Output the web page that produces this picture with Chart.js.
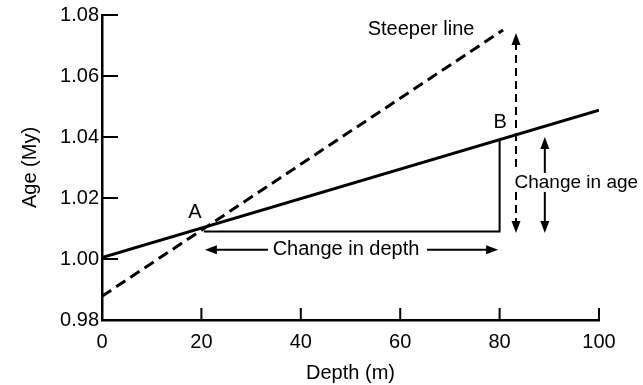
<!DOCTYPE html>
<html>
<head>
<meta charset="utf-8">
<script src="https://cdn.jsdelivr.net/npm/chart.js@4/dist/chart.umd.min.js"></script>
<style>
  html, body { margin: 0; padding: 0; background: #fff; }
  canvas { display: block; }
</style>
</head>
<body>
<canvas id="c" width="643" height="385"></canvas>
<script>
// ---- data ----
const depthTicks = [0, 20, 40, 60, 80, 100];
const ageTicks = [0.98, 1.00, 1.02, 1.04, 1.06, 1.08];

const lineDepth = [0, 100];
const lineAge = [1.0005, 1.0488];

const steeperDepth = [0, 80.7];
const steeperAge = [0.9878, 1.0751];

const triangleDepth = [20.5, 80, 80];
const triangleAge = [1.009, 1.009, 1.0391];

// double arrows: [outer tip, inner end] per half
const depthArrowAge = 1.003;
const depthArrowLeft = [20.7, 33.4];
const depthArrowRight = [79.7, 65.4];

const ageArrowDepth = 89.1;
const ageArrowTop = [1.040, 1.0282];
const ageArrowBottom = [1.0085, 1.022];

const steepArrowDepth = 83.3;
const steepArrowTop = [1.0741, 1.0302];
const steepArrowBottom = [1.0085, 1.022];

// text labels: [text, depth, age, align, size]
const labels = [
  ['A', 18.7, 1.0154, 'center', 20],
  ['B', 80.1, 1.0446, 'center', 20],
  ['Steeper line', 64.2, 1.0751, 'center', 20],
  ['Change in depth', 49.1, 1.003, 'center', 20],
  ['Change in age', 83.0, 1.0249, 'left', 19]
];

const FAMILY = "'Liberation Sans', Arial, sans-serif";
const FONT = { family: FAMILY, size: 20 };

function pts(xs, ys) { return xs.map((x, i) => ({ x: x, y: ys[i] })); }

function head(ctx, x, y, ang) {
  const L = 12, W = 4.5;
  ctx.save();
  ctx.translate(x, y);
  ctx.rotate(ang);
  ctx.beginPath();
  ctx.moveTo(0, 0);
  ctx.lineTo(-L, -W);
  ctx.lineTo(-L, W);
  ctx.closePath();
  ctx.fillStyle = '#000';
  ctx.fill();
  ctx.restore();
}

function arrowHalf(ctx, x1, y1, x2, y2, dash) {
  // (x1,y1) = tip, (x2,y2) = tail
  const ang = Math.atan2(y1 - y2, x1 - x2);
  ctx.save();
  ctx.strokeStyle = '#000';
  ctx.lineWidth = 2;
  ctx.setLineDash(dash || []);
  ctx.beginPath();
  ctx.moveTo(x2, y2);
  ctx.lineTo(x1 - Math.cos(ang) * 8, y1 - Math.sin(ang) * 8);
  ctx.stroke();
  ctx.restore();
  head(ctx, x1, y1, ang);
}

const decor = {
  id: 'decor',
  afterDraw(chart) {
    const ctx = chart.ctx;
    const xs = chart.scales.x, ys = chart.scales.y;
    const X = v => xs.getPixelForValue(v), Y = v => ys.getPixelForValue(v);
    const area = chart.chartArea;
    ctx.save();
    // inward tick marks
    ctx.strokeStyle = '#000';
    ctx.lineWidth = 2;
    ageTicks.forEach(v => {
      const y = Y(v);
      ctx.beginPath(); ctx.moveTo(area.left, y); ctx.lineTo(area.left + 16, y); ctx.stroke();
    });
    depthTicks.forEach(v => {
      const x = X(v);
      ctx.beginPath(); ctx.moveTo(x, area.bottom); ctx.lineTo(x, area.bottom - 12); ctx.stroke();
    });

    // depth arrow
    arrowHalf(ctx, X(depthArrowLeft[0]), Y(depthArrowAge), X(depthArrowLeft[1]), Y(depthArrowAge));
    arrowHalf(ctx, X(depthArrowRight[0]), Y(depthArrowAge), X(depthArrowRight[1]), Y(depthArrowAge));
    // age arrow (solid)
    arrowHalf(ctx, X(ageArrowDepth), Y(ageArrowTop[0]), X(ageArrowDepth), Y(ageArrowTop[1]));
    arrowHalf(ctx, X(ageArrowDepth), Y(ageArrowBottom[0]), X(ageArrowDepth), Y(ageArrowBottom[1]));
    // steeper age arrow (dashed)
    arrowHalf(ctx, X(steepArrowDepth), Y(steepArrowTop[0]), X(steepArrowDepth), Y(steepArrowTop[1]), [8, 5]);
    arrowHalf(ctx, X(steepArrowDepth), Y(steepArrowBottom[0]), X(steepArrowDepth), Y(steepArrowBottom[1]), [8, 5]);

    // labels
    ctx.fillStyle = '#000';
    ctx.textBaseline = 'middle';
    labels.forEach(([t, d, a, al, sz]) => {
      ctx.font = sz + 'px ' + FAMILY;
      ctx.textAlign = al;
      ctx.fillText(t, X(d), Y(a));
    });
    ctx.restore();
  }
};

new Chart(document.getElementById('c'), {
  type: 'scatter',
  data: {
    datasets: [
      { data: pts(lineDepth, lineAge), showLine: true, borderColor: '#000', borderWidth: 3, pointRadius: 0 },
      { data: pts(steeperDepth, steeperAge), showLine: true, borderColor: '#000', borderWidth: 3, borderDash: [11, 6], pointRadius: 0 },
      { data: pts(triangleDepth, triangleAge), showLine: true, borderColor: '#000', borderWidth: 2, pointRadius: 0 }
    ]
  },
  options: {
    responsive: false,
    animation: false,
    layout: { padding: { left: 0, right: 44, top: 15, bottom: 0 } },
    plugins: { legend: { display: false }, tooltip: { enabled: false } },
    scales: {
      x: {
        type: 'linear', min: 0, max: 100,
        afterBuildTicks: s => { s.ticks = depthTicks.map(v => ({ value: v })); },
        grid: { display: false, drawTicks: false },
        border: { display: true, color: '#000', width: 2.5 },
        ticks: { color: '#000', font: FONT, padding: 10, maxRotation: 0, callback: v => String(v) },
        title: { display: true, text: 'Depth (m)', color: '#000', font: FONT, padding: { top: 7, bottom: 0 } },
        afterFit: s => { s.height = 65; }
      },
      y: {
        type: 'linear', min: 0.98, max: 1.08,
        afterBuildTicks: s => { s.ticks = ageTicks.map(v => ({ value: v })); },
        grid: { display: false, drawTicks: false },
        border: { display: true, color: '#000', width: 2.5 },
        ticks: { color: '#000', font: FONT, padding: 3, callback: v => Number(v).toFixed(2) },
        title: { display: true, text: 'Age (My)', color: '#000', font: FONT, padding: { top: 18, bottom: 0 } },
        afterFit: s => { s.width = 102; }
      }
    }
  },
  plugins: [decor]
});
</script>
</body>
</html>
